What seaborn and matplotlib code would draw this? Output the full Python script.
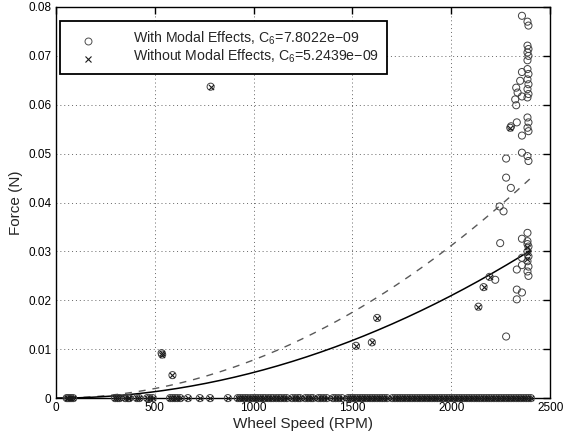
import numpy as np
import pandas as pd
import matplotlib
matplotlib.use("Agg")
import matplotlib.pyplot as plt
from matplotlib.lines import Line2D
from matplotlib.legend_handler import HandlerLine2D
import seaborn as sns

# Fitted coefficients F = C6 * w^2
C6_WITH = 7.8022e-09
C6_WITHOUT = 5.2439e-09

# Wheel speeds (RPM) where the measured force is zero (both data sets)
zero_speed = [55, 62, 70, 78, 88, 300, 312, 322, 352, 365, 372, 410, 422, 462,
              475, 490, 578, 590, 602, 615, 630, 668, 728, 780, 870, 920, 932,
              945, 958, 970, 985, 998, 1010, 1022, 1035, 1048, 1060, 1075, 1088,
              1100, 1115, 1128, 1140, 1155, 1168, 1195, 1210, 1225, 1235, 1262,
              1275, 1290, 1300, 1328, 1340, 1355, 1370, 1402, 1415, 1430, 1447,
              1478, 1490, 1500, 1512, 1525, 1538, 1550, 1562, 1575, 1588, 1600,
              1612, 1625, 1638, 1650, 1662, 1675, 1702, 1715, 1728, 1740, 1752,
              1765, 1778, 1790, 1802, 1815, 1828, 1840, 1852, 1865, 1878, 1890,
              1902, 1915, 1928, 1940, 1952, 1965, 1978, 1990, 2002, 2015, 2028,
              2040, 2052, 2065, 2078, 2090, 2102, 2115, 2128, 2140, 2152, 2165,
              2178, 2190, 2202, 2215, 2228, 2240, 2252, 2265, 2278, 2290, 2302,
              2315, 2328, 2340, 2352, 2365, 2378, 2390, 2402]

# Non-zero points common to both data sets
shared_speed = [535, 538, 590, 783, 1518, 1598, 1625, 2137, 2163, 2193, 2298]
shared_force = [0.0092, 0.0089, 0.0047, 0.0637, 0.0107, 0.0114, 0.0164,
                0.0187, 0.0227, 0.0248, 0.0553]

# Additional points measured with modal effects
modal_speed = [2357, 2385, 2390, 2385, 2390, 2385, 2390, 2385, 2357, 2385,
               2390, 2385, 2390, 2385, 2390, 2385, 2348, 2328, 2335, 2323,
               2328, 2357, 2385, 2390, 2385, 2390, 2331, 2357, 2357, 2385,
               2390, 2277, 2277, 2301, 2244, 2264, 2247, 2385, 2357, 2385,
               2390, 2385, 2390, 2385, 2390, 2385, 2390, 2357, 2331, 2357,
               2385, 2222, 2331, 2357, 2331, 2277, 2302]
modal_force = [0.0782, 0.0770, 0.0762, 0.0721, 0.0714, 0.0707, 0.0700, 0.0691,
               0.0667, 0.0673, 0.0663, 0.0652, 0.0642, 0.0632, 0.0622, 0.0615,
               0.0649, 0.0635, 0.0625, 0.0611, 0.0599, 0.0617, 0.0574, 0.0564,
               0.0553, 0.0546, 0.0564, 0.0537, 0.0502, 0.0495, 0.0485, 0.0490,
               0.0451, 0.0430, 0.0392, 0.0382, 0.0317, 0.0338, 0.0326, 0.0321,
               0.0310, 0.0300, 0.0290, 0.0280, 0.0269, 0.0259, 0.0250, 0.0272,
               0.0263, 0.0287, 0.0315, 0.0242, 0.0222, 0.0216, 0.0202, 0.0126,
               0.0556]

# Additional points measured without modal effects
plain_speed = [2385, 2388, 2383]
plain_force = [0.0310, 0.0296, 0.0285]

x_ticks = [0, 500, 1000, 1500, 2000, 2500]
x_ticklabels = ["0", "500", "1000", "1500", "2000", "2500"]
y_ticks = [0, 0.01, 0.02, 0.03, 0.04, 0.05, 0.06, 0.07, 0.08]
y_ticklabels = ["0", "0.01", "0.02", "0.03", "0.04", "0.05", "0.06", "0.07", "0.08"]

with_df = pd.DataFrame({
    "speed": zero_speed + shared_speed + modal_speed,
    "force": [0.0] * len(zero_speed) + shared_force + modal_force,
})
without_df = pd.DataFrame({
    "speed": zero_speed + shared_speed + plain_speed,
    "force": [0.0] * len(zero_speed) + shared_force + plain_force,
})

w = np.linspace(0, max(zero_speed), 200)
fit_df = pd.DataFrame({
    "speed": np.concatenate([w, w]),
    "force": np.concatenate([C6_WITH * w ** 2, C6_WITHOUT * w ** 2]),
    "model": ["with"] * len(w) + ["without"] * len(w),
})

sns.set_style("white")
plt.rcParams["font.family"] = ["Liberation Sans", "DejaVu Sans"]
plt.rcParams["mathtext.fontset"] = "custom"
plt.rcParams["mathtext.rm"] = "Liberation Sans"
plt.rcParams["mathtext.it"] = "Liberation Sans:italic"

fig = plt.figure(figsize=(5.69, 4.37), dpi=100)
ax = fig.add_axes([0.098, 0.089, 0.869, 0.895])

sns.scatterplot(data=with_df, x="speed", y="force", ax=ax, marker="o",
                s=26, facecolors="none", edgecolor="0.25", linewidth=0.7,
                legend=False, zorder=3, clip_on=False)
sns.scatterplot(data=without_df, x="speed", y="force", ax=ax, marker="x",
                s=14, color="0.1", linewidth=0.8, legend=False, zorder=4,
                clip_on=False)

sns.lineplot(data=fit_df[fit_df.model == "with"], x="speed", y="force", ax=ax,
             color="0.35", linewidth=1.0, linestyle=(0, (5, 5)), legend=False,
             zorder=2)
sns.lineplot(data=fit_df[fit_df.model == "without"], x="speed", y="force", ax=ax,
             color="black", linewidth=1.1, legend=False, zorder=2)

ax.set_xlim(0, 2500)
ax.set_ylim(0, 0.08)
ax.set_xticks(x_ticks)
ax.set_xticklabels(x_ticklabels)
ax.set_yticks(y_ticks)
ax.set_yticklabels(y_ticklabels)
ax.tick_params(direction="in", length=5, width=1, labelsize=8.5,
               top=True, right=True, colors="black", pad=3)
ax.grid(True, linestyle=(0, (1, 3)), color="0.4", linewidth=0.7)
for sp in ax.spines.values():
    sp.set_color("black")
    sp.set_linewidth(1.0)

ax.set_xlabel("Wheel Speed (RPM)", fontsize=11, labelpad=2)
ax.set_ylabel("Force (N)", fontsize=11, labelpad=4)


class LoweredMarker(HandlerLine2D):
    """Legend marker drawn slightly below the text baseline centre."""

    def create_artists(self, legend, orig_handle, xdescent, ydescent, width,
                       height, fontsize, trans):
        artists = super().create_artists(legend, orig_handle, xdescent,
                                         ydescent, width, height, fontsize,
                                         trans)
        for a in artists:
            a.set_ydata(np.asarray(a.get_ydata()) - 2.5)
        return artists


handles = [
    Line2D([], [], marker="o", linestyle="none", markerfacecolor="none",
           markeredgecolor="0.3", markersize=5, markeredgewidth=0.7),
    Line2D([], [], marker="x", linestyle="none", color="0.1",
           markersize=4, markeredgewidth=0.8),
]
labels = [
    "With Modal Effects, C$_\\mathregular{6}$=7.8022e\u221209",
    "Without Modal Effects, C$_\\mathregular{6}$=5.2439e\u221209",
]
leg = ax.legend(handles, labels, loc="upper left", bbox_to_anchor=(0.008, 0.963),
                fontsize=10.2, frameon=True, fancybox=False, handlelength=2.8,
                handletextpad=1.76, borderpad=0.6, labelspacing=0.02,
                borderaxespad=0, handler_map={Line2D: LoweredMarker()})
leg.get_frame().set_edgecolor("black")
leg.get_frame().set_linewidth(1.3)
leg.get_frame().set_facecolor("white")
leg.get_frame().set_alpha(1)

fig.savefig("out.png", dpi=100)
